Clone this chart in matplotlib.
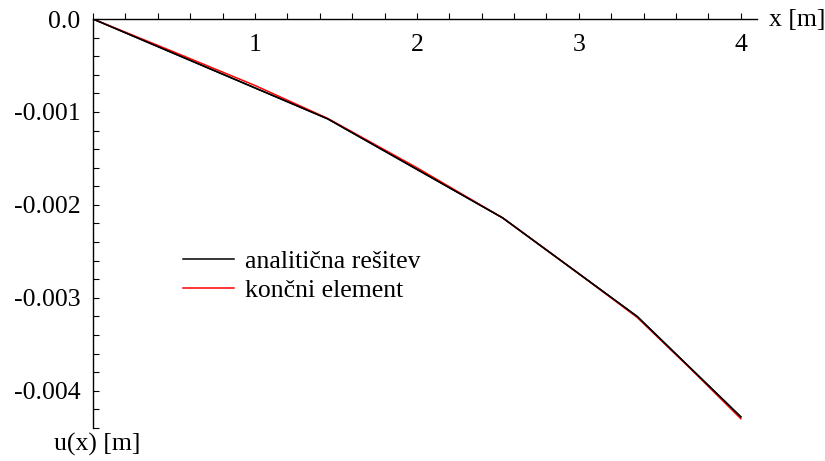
import numpy as np
import matplotlib
matplotlib.use("Agg")
import matplotlib.pyplot as plt
from matplotlib.ticker import MultipleLocator, FixedLocator

# beam deflection u(x): analytical solution vs. finite element result
x_analit = [0.0, 1.45, 2.53, 3.36, 4.0]
u_analit = [0.0, -0.001075, -0.00214, -0.0032, -0.00428]

x_fem = [0.0, 0.5, 1.0, 1.45, 2.0, 2.53, 3.0, 3.36, 3.7, 4.0]
u_fem = [0.0, -0.000355, -0.000715, -0.00107, -0.0016, -0.00214,
         -0.00274, -0.00321, -0.00378, -0.0043]

x_ticks = [1, 2, 3, 4]
y_ticks = [0.0, -0.001, -0.002, -0.003, -0.004]
y_labels = ["0.0", "-0.001", "-0.002", "-0.003", "-0.004"]

plt.rcParams["font.family"] = ["Liberation Serif", "DejaVu Serif"]
FS = 18.5

fig = plt.figure(figsize=(8.25, 4.61), dpi=100)
W, H = 825, 461
x0, x1, ytop, ybot = 93, 757, 19, 428
ax = fig.add_axes([x0 / W, 1 - ybot / H, (x1 - x0) / W, (ybot - ytop) / H])

ax.plot(x_analit, u_analit, color="black", lw=1.1, label="analitična rešitev")
ax.plot(x_fem, u_fem, color="red", lw=1.1, label="končni element")
ax.plot(x_analit, u_analit, color="black", lw=1.1)

ax.set_xlim(0, 4.1)
ax.set_ylim(-0.0044, 0)

for s in ["top", "right"]:
    ax.spines[s].set_visible(False)
ax.spines["bottom"].set_position(("data", 0))
ax.spines["left"].set_position(("data", 0))
ax.spines["bottom"].set_linewidth(1.0)
ax.spines["left"].set_linewidth(1.0)

ax.xaxis.set_major_locator(FixedLocator(x_ticks))
ax.xaxis.set_minor_locator(MultipleLocator(0.2))
ax.yaxis.set_major_locator(FixedLocator(y_ticks))
ax.set_yticklabels(y_labels)
ax.yaxis.set_minor_locator(MultipleLocator(0.0002))

ax.tick_params(axis="x", which="both", direction="in", length=4, width=0.8,
               labelsize=FS, pad=11)
ax.tick_params(axis="y", which="both", direction="in", length=4, width=0.8,
               labelsize=FS, pad=9)

fig.text(769 / W, 1 - 20 / H, "x [m]", fontsize=FS, va="center", ha="left")
fig.text(97 / W, 1 - 444 / H, "u(x) [m]", fontsize=FS, va="center", ha="center")

leg = ax.legend(loc="upper left", bbox_to_anchor=(183 / W, 1 - 250 / H),
                bbox_transform=fig.transFigure, frameon=False, fontsize=FS,
                handlelength=2.0, handletextpad=0.4, labelspacing=0.25,
                borderaxespad=0, borderpad=0)

fig.savefig("out.png", dpi=100, facecolor="white")
